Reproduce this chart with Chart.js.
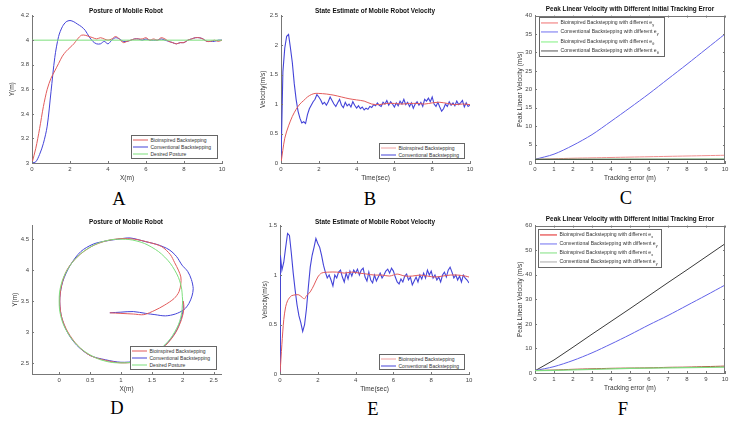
<!DOCTYPE html>
<html>
<head>
<meta charset="utf-8">
<script src="https://cdn.jsdelivr.net/npm/chart.js@4.4.0/dist/chart.umd.min.js"></script>
<style>
  body { margin: 0; background: #fff; width: 748px; height: 428px; position: relative; overflow: hidden;
         font-family: "Liberation Sans", Arial, sans-serif; }
  .panel { position: absolute; }
  .ttl { position: absolute; font-weight: bold; font-size: 6.4px; line-height: 1; color: #111;
         white-space: nowrap; transform: translate(-50%, -50%); }
  .letter { position: absolute; font-family: "Liberation Serif", "Times New Roman", serif; font-size: 18.5px;
            line-height: 1; color: #000; transform: translate(-50%, -50%); }
  .lg { position: absolute; box-sizing: border-box; border: 1px solid #666; background: #fff; color: #333; }
  .lg .row { position: absolute; left: 1px; display: flex; align-items: center; white-space: nowrap;
             transform: translateY(-50%); line-height: 1; }
  .lg .sw { display: inline-block; height: 1px; margin-right: 2.5px; }
  .lg sub { font-size: 0.75em; vertical-align: -0.35em; line-height: 0; }
</style>
</head>
<body>
<script>
// ---- data ----

// A: posture (Y vs X)
const xA = [0,0.2,0.4,0.6,0.8,1,1.2,1.4,1.6,1.8,2,2.2,2.4,2.6,2.8,3,3.2,3.4,3.6,3.8,4,4.2,4.4,4.6,4.8,5,
            5.2,5.4,5.6,5.8,6,6.2,6.4,6.6,6.8,7,7.2,7.4,7.6,7.8,8,8.2,8.4,8.6,8.8,9,9.2,9.4,9.6,9.8,10];
const yA_bio = [3.00,3.12,3.28,3.46,3.60,3.69,3.75,3.81,3.87,3.91,3.94,3.97,4.01,4.04,4.04,4.03,4.02,4.01,4.02,4.01,
                4.00,4.01,4.03,4.01,3.98,3.99,4.00,4.01,4.01,4.01,4.02,4.00,4.01,4.00,4.02,4.01,3.99,3.98,3.97,3.98,
                3.98,4.00,4.01,4.02,4.02,4.01,3.99,3.99,4.00,3.99,4.00];
const yA_conv = [3.00,3.01,3.07,3.16,3.30,3.58,3.86,4.03,4.11,4.15,4.16,4.15,4.13,4.11,4.08,4.03,3.99,3.97,3.97,3.99,
                 3.97,4.00,4.02,4.01,3.99,3.99,4.00,4.01,4.01,4.00,4.01,4.00,4.00,4.00,4.01,4.00,3.99,3.98,3.97,3.98,
                 3.98,4.00,4.01,4.02,4.02,4.01,3.99,3.99,3.99,4.00,4.00];
const xA_desired = [0, 10];
const yA_desired = [4, 4];

// B: velocity estimate
const tB_bio = [0,0.2,0.4,0.6,0.8,1,1.2,1.4,1.6,1.8,2,2.4,2.8,3.2,3.6,4,4.4,4.8,5.2,5.6,6,6.4,6.8,7.2,7.6,8,8.4,8.8,9.2,9.6,10];
const vB_bio = [0,0.42,0.63,0.79,0.91,1.00,1.06,1.12,1.16,1.18,1.18,1.17,1.15,1.12,1.09,1.07,1.05,1.00,0.99,1.01,
                1.01,1.00,1.01,1.01,1.00,1.02,1.03,1.01,0.99,1.00,0.99];
const tB_conv = [0,0.1,0.2,0.3,0.4,0.5,0.6,0.7,0.8,0.9,1,1.1,1.2,1.3,1.4,1.5,1.6,1.7,1.8,1.9,
                 2,2.1,2.2,2.3,2.4,2.5,2.6,2.7,2.8,2.9,3,3.1,3.2,3.3,3.4,3.5,3.6,3.7,3.8,3.9,
                 4,4.1,4.2,4.3,4.4,4.5,4.6,4.7,4.8,4.9,5,5.1,5.2,5.3,5.4,5.5,5.6,5.7,5.8,5.9,
                 6,6.1,6.2,6.3,6.4,6.5,6.6,6.7,6.8,6.9,7,7.1,7.2,7.3,7.4,7.5,7.6,7.7,7.8,7.9,
                 8,8.1,8.2,8.3,8.4,8.5,8.6,8.7,8.8,8.9,9,9.1,9.2,9.3,9.4,9.5,9.6,9.7,9.8,9.9,10];
const vB_conv = [0.00,1.55,1.95,2.15,2.18,1.95,1.70,1.35,1.08,0.88,0.76,0.68,0.70,0.67,0.82,0.92,0.98,1.04,1.08,1.16,
                 1.12,1.07,1.00,1.03,0.98,1.04,1.12,1.06,1.00,0.96,1.02,1.08,0.98,0.94,1.03,0.97,1.00,0.95,1.04,0.98,
                 0.93,0.97,0.92,0.95,0.90,0.93,0.91,0.96,0.94,0.99,0.97,1.02,0.98,0.96,1.03,1.00,1.06,0.98,1.04,1.00,
                 0.95,1.02,0.97,1.05,1.00,1.08,0.99,1.03,0.96,1.02,0.93,1.00,1.04,0.98,1.03,0.96,1.08,1.05,1.10,1.04,
                 1.12,1.00,0.96,1.03,0.95,0.88,0.92,1.00,0.96,1.04,0.98,1.02,0.97,1.05,0.99,1.02,1.06,0.95,1.02,0.96,0.98];

// C: peak linear velocity vs initial tracking error
const errC = [0,1,2,3,4,5,6,7,8,9,10];
const pkC_bioY  = [1.0,1.15,1.3,1.4,1.5,1.6,1.7,1.8,1.9,2.0,2.1];
const pkC_convY = [1.0,2.4,4.8,7.7,11.3,15.0,18.8,22.8,26.8,30.9,35.0];
const pkC_bioT  = [1.0,1.0,1.0,1.0,1.02,1.02,1.03,1.03,1.04,1.04,1.05];
const pkC_convT = [1.0,1.0,1.0,1.0,1.0,1.0,1.0,1.0,1.0,1.0,1.0];

// D: posture on the circle
const xD_bio = [0.82,1.00,1.20,1.37,1.55,1.70,1.86,1.94,1.97,1.97,1.93,1.87,1.80,1.66,1.45,1.22,1.00,0.75,0.52,0.30,
                0.13,0.04,0.01,0.04,0.14,0.30,0.50,0.75,1.00,1.26,1.50,1.72,1.88,1.98,2.02,2.01];
const yD_bio = [3.31,3.30,3.29,3.28,3.35,3.43,3.54,3.65,3.78,3.89,4.00,4.12,4.25,4.38,4.45,4.50,4.51,4.47,4.38,4.22,
                4.01,3.76,3.50,3.24,3.00,2.78,2.62,2.54,2.50,2.52,2.62,2.78,2.98,3.20,3.38,3.50];
const xD_conv = [0.82,1.00,1.20,1.40,1.55,1.72,1.88,2.02,2.10,2.15,2.17,2.14,2.08,1.99,1.90,1.78,1.60,1.40,1.15,0.95,
                 0.75,0.55,0.35,0.18,0.06,0.01,0.03,0.12,0.28,0.50,0.75,1.00,1.25,1.50,1.72,1.88,1.97,2.01,2.00];
const yD_conv = [3.31,3.32,3.33,3.30,3.28,3.26,3.29,3.36,3.46,3.58,3.70,3.85,3.98,4.08,4.22,4.33,4.41,4.46,4.52,4.50,
                 4.47,4.42,4.30,4.08,3.82,3.55,3.28,3.02,2.79,2.62,2.55,2.51,2.53,2.63,2.79,2.99,3.20,3.38,3.50];
const xD_desired = [2.00,1.97,1.87,1.71,1.50,1.26,1.00,0.74,0.50,0.29,0.13,0.03,0.00,0.03,0.13,0.29,0.50,0.74,1.00,1.26,
                    1.50,1.71,1.87,1.97,2.00];
const yD_desired = [3.50,3.76,4.00,4.21,4.37,4.47,4.50,4.47,4.37,4.21,4.00,3.76,3.50,3.24,3.00,2.79,2.63,2.53,2.50,2.53,
                    2.63,2.79,3.00,3.24,3.50];

// E: velocity estimate
const tE_bio = [0,0.1,0.2,0.3,0.4,0.5,0.6,0.8,1.0,1.2,1.3,1.4,1.6,1.8,2.0,2.2,2.6,3.0,3.4,3.8,4.2,4.6,5.0,5.4,5.8,6.2,
                6.6,7.0,7.4,7.8,8.2,8.6,9.0,9.4,9.8,10];
const vE_bio = [0,0.30,0.55,0.68,0.74,0.77,0.79,0.80,0.80,0.77,0.76,0.79,0.83,0.90,0.98,1.02,1.03,1.03,1.02,1.03,
                1.02,1.01,1.00,1.00,0.99,1.01,0.99,0.99,1.00,0.99,0.98,0.99,1.00,1.00,0.99,0.98];
const tE_conv = [0,0.02,0.1,0.2,0.3,0.4,0.5,0.6,0.7,0.8,0.9,1,1.1,1.2,1.3,1.4,1.5,1.6,1.7,1.8,1.9,
                 2,2.1,2.2,2.3,2.4,2.5,2.6,2.7,2.8,2.9,3,3.1,3.2,3.3,3.4,3.5,3.6,3.7,3.8,3.9,
                 4,4.1,4.2,4.3,4.4,4.5,4.6,4.7,4.8,4.9,5,5.1,5.2,5.3,5.4,5.5,5.6,5.7,5.8,5.9,
                 6,6.1,6.2,6.3,6.4,6.5,6.6,6.7,6.8,6.9,7,7.1,7.2,7.3,7.4,7.5,7.6,7.7,7.8,7.9,
                 8,8.1,8.2,8.3,8.4,8.5,8.6,8.7,8.8,8.9,9,9.1,9.2,9.3,9.4,9.5,9.6,9.7,9.8,9.9,10];
const vE_conv = [0.00,1.20,1.05,1.13,1.28,1.42,1.40,1.22,1.02,0.85,0.70,0.59,0.52,0.43,0.50,0.66,0.88,1.08,1.20,1.28,1.37,
                 1.32,1.28,1.20,1.10,1.03,0.97,1.00,0.95,0.89,1.00,0.97,1.03,1.05,0.98,0.93,1.02,0.96,1.04,0.99,1.05,
                 1.02,1.06,1.00,1.05,1.07,0.98,0.94,1.03,0.95,0.92,1.00,0.94,0.98,1.02,0.97,1.00,1.04,1.06,1.02,1.07,
                 1.04,0.98,0.93,0.91,0.96,0.93,0.99,1.01,0.95,0.98,0.90,0.94,0.98,0.93,1.00,0.96,1.02,0.97,1.05,1.00,
                 1.04,0.97,1.00,0.95,0.98,0.93,1.00,1.03,0.98,1.05,1.08,1.03,0.97,1.00,0.95,0.99,0.93,1.00,0.97,0.95,0.92];

// F: peak linear velocity vs initial tracking error
const errF = [0,1,2,3,4,5,6,7,8,9,10];
const pkF_bioX  = [1.0,1.2,1.5,1.7,1.9,2.0,2.1,2.3,2.4,2.6,2.8];
const pkF_convY = [1.0,2.6,5.1,8.2,11.8,15.6,19.6,23.4,27.5,31.6,35.8];
const pkF_bioY  = [1.0,1.1,1.3,1.5,1.7,1.9,2.0,2.1,2.2,2.3,2.4];
const pkF_convX = [0.9,5.3,10.5,15.8,21.0,26.2,31.5,36.8,42.0,47.3,52.6];

// tick labels
const ticksX10s2 = [0,2,4,6,8,10];
const ticksX10s1 = [0,1,2,3,4,5,6,7,8,9,10];
const ticksYA = [3,3.2,3.4,3.6,3.8,4,4.2];
const ticksYB = [0,0.5,1,1.5,2,2.5];
const ticksYC = [0,5,10,15,20,25,30,35,40];
const ticksXD = [0,0.5,1,1.5,2,2.5];
const ticksYD = [2.5,3,3.5,4,4.5];
const ticksYE = [0,0.5,1,1.5];
const ticksYF = [0,10,20,30,40,50,60];

// ---- drawing ----
Chart.defaults.font.family = '"Liberation Sans", Arial, sans-serif';
Chart.defaults.color = '#444';

const RED = '#e25b5b', BLUE = '#4444d8', GREEN = '#7ddf7d';

// Matlab-like inward ticks and optional full box
Chart.register({
  id: 'matFrame',
  afterDraw(chart, args, opts) {
    const { ctx, chartArea: a, scales: { x, y } } = chart;
    ctx.save();
    ctx.strokeStyle = '#777';
    ctx.lineWidth = 1;
    ctx.beginPath();
    x.ticks.forEach(t => {
      const px = Math.round(x.getPixelForValue(t.value)) + 0.5;
      ctx.moveTo(px, a.bottom); ctx.lineTo(px, a.bottom - 2);
      if (opts.box) { ctx.moveTo(px, a.top); ctx.lineTo(px, a.top + 2); }
    });
    y.ticks.forEach(t => {
      const py = Math.round(y.getPixelForValue(t.value)) + 0.5;
      ctx.moveTo(a.left, py); ctx.lineTo(a.left + 2, py);
      if (opts.box) { ctx.moveTo(a.right, py); ctx.lineTo(a.right - 2, py); }
    });
    if (opts.box) {
      ctx.moveTo(a.left, Math.round(a.top) + 0.5); ctx.lineTo(a.right, Math.round(a.top) + 0.5);
      ctx.moveTo(Math.round(a.right) - 0.5, a.top); ctx.lineTo(Math.round(a.right) - 0.5, a.bottom);
    }
    ctx.stroke();
    ctx.restore();
  }
});

function pts(xs, ys) { return xs.map((v, i) => ({ x: v, y: ys[i] })); }

function line(xs, ys, color, extra) {
  return Object.assign({ data: pts(xs, ys), borderColor: color, borderWidth: 1, showLine: true,
                         pointRadius: 0, tension: 0, fill: false }, extra || {});
}

function axis(min, max, ticks, title, titlePad, fit) {
  return {
    min, max,
    afterBuildTicks: s => { s.ticks = ticks.map(v => ({ value: v })); },
    afterFit: fit,
    grid: { display: false, drawTicks: false },
    border: { display: true, color: '#777', width: 1 },
    ticks: { padding: 3, autoSkip: false, maxRotation: 0, font: { size: 6 }, color: '#444',
             callback: v => String(v) },
    title: { display: true, text: title, color: '#333', font: { size: 6.5 }, padding: titlePad }
  };
}

function addText(cls, html, x, y) {
  const d = document.createElement('div');
  d.className = cls;
  d.innerHTML = html;
  d.style.left = x + 'px';
  d.style.top = y + 'px';
  document.body.appendChild(d);
}

function addLegend(box, rows, fontSize, swW) {
  const el = document.createElement('div');
  el.className = 'lg';
  el.style.left = box[0] + 'px';
  el.style.top = box[1] + 'px';
  el.style.width = (box[2] - box[0]) + 'px';
  el.style.height = (box[3] - box[1]) + 'px';
  el.style.fontSize = fontSize + 'px';
  const h = box[3] - box[1] - 2;
  rows.forEach((r, i) => {
    const row = document.createElement('div');
    row.className = 'row';
    row.style.top = ((i + 0.5) * h / rows.length) + 'px';
    row.innerHTML = `<span class="sw" style="width:${swW}px;background:${r.color}"></span><span>${r.label}</span>`;
    el.appendChild(row);
  });
  document.body.appendChild(el);
}

function makePanel(p) {
  const padT = 6, padR = 8, xH = 22;
  const yW = p.area.l - p.yTitleX + 6;
  const w = yW + (p.area.r - p.area.l) + padR;
  const h = padT + (p.area.b - p.area.t) + xH;
  const wrap = document.createElement('div');
  wrap.className = 'panel';
  wrap.style.left = (p.area.l - yW) + 'px';
  wrap.style.top = (p.area.t - padT) + 'px';
  const cv = document.createElement('canvas');
  cv.width = w; cv.height = h;
  cv.style.width = w + 'px'; cv.style.height = h + 'px';
  wrap.appendChild(cv);
  document.body.appendChild(wrap);

  new Chart(cv, {
    type: 'scatter',
    data: { datasets: p.datasets },
    options: {
      responsive: false,
      animation: false,
      layout: { padding: { top: padT, right: padR, left: 0, bottom: 0 } },
      plugins: { legend: { display: false }, tooltip: { enabled: false }, matFrame: { box: !!p.box } },
      scales: {
        x: axis(p.x[0], p.x[1], p.x[2], p.xTitle, { top: 0, bottom: 3.1 }, s => { s.height = xH; }),
        y: axis(p.y[0], p.y[1], p.y[2], p.yTitle, { top: 2.1, bottom: 0 }, s => { s.width = yW; })
      }
    }
  });

  addText('ttl', p.title, p.titlePos[0], p.titlePos[1]);
  addText('letter', p.letter, p.letterPos[0], p.letterPos[1]);
}

const peakTitle = 'Peak Linear Velocity with Different Initial Tracking Error';

// A
makePanel({
  area: { l: 32, r: 222, t: 15, b: 163 }, yTitleX: 12,
  x: [0, 10, ticksX10s2], y: [3, 4.2, ticksYA], xTitle: 'X(m)', yTitle: 'Y(m)',
  title: 'Posture of Mobile Robot', titlePos: [126, 11], letter: 'A', letterPos: [119, 199],
  datasets: [
    line(xA_desired, yA_desired, GREEN),
    line(xA, yA_bio, RED, { tension: 0.3 }),
    line(xA, yA_conv, BLUE, { tension: 0.3 })
  ]
});
addLegend([131, 135, 218, 159], [
  { label: 'Bioinspired Backstepping', color: RED },
  { label: 'Conventional Backstepping', color: BLUE },
  { label: 'Desired Posture', color: GREEN }
], 5, 15);

// B
makePanel({
  area: { l: 281, r: 470, t: 15, b: 163 }, yTitleX: 263,
  x: [0, 10, ticksX10s2], y: [0, 2.5, ticksYB], xTitle: 'Time(sec)', yTitle: 'Velocity(m/s)',
  title: 'State Estimate of Mobile Robot Velocity', titlePos: [375, 11], letter: 'B', letterPos: [370, 199],
  datasets: [
    line(tB_bio, vB_bio, RED, { tension: 0.3 }),
    line(tB_conv, vB_conv, BLUE, { borderWidth: 1.1 })
  ]
});
addLegend([379, 143, 465, 159], [
  { label: 'Bioinspired Backstepping', color: '#f0a0a0' },
  { label: 'Conventional Backstepping', color: BLUE }
], 5, 15);

// C
makePanel({
  area: { l: 535, r: 725, t: 15, b: 163 }, yTitleX: 520, box: true,
  x: [0, 10, ticksX10s1], y: [0, 40, ticksYC], xTitle: 'Tracking error (m)', yTitle: 'Peak Linear Velocity (m/s)',
  title: peakTitle, titlePos: [630, 9], letter: 'C', letterPos: [626, 198],
  datasets: [
    line(errC, pkC_convT, '#444'),
    line(errC, pkC_bioT, '#55c855'),
    line(errC, pkC_bioY, '#f09090', { tension: 0.3 }),
    line(errC, pkC_convY, '#6262e8', { tension: 0.3 })
  ]
});
addLegend([539, 17, 665, 57], [
  { label: 'Bioinspired Backstepping with different e<sub>y</sub>', color: '#f07070' },
  { label: 'Conventional Backstepping with different e<sub>y</sub>', color: '#7070f0' },
  { label: 'Bioinspired Backstepping with different e<sub>θ</sub>', color: '#80f080' },
  { label: 'Conventional Backstepping with different e<sub>θ</sub>', color: '#555' }
], 5.1, 17);

// D
makePanel({
  area: { l: 32, r: 221, t: 225, b: 374 }, yTitleX: 15,
  x: [-0.44, 2.62, ticksXD], y: [2.32, 4.72, ticksYD], xTitle: 'X(m)', yTitle: 'Y(m)',
  title: 'Posture of Mobile Robot', titlePos: [126, 222], letter: 'D', letterPos: [117, 408],
  datasets: [
    line(xD_desired, yD_desired, GREEN, { tension: 0.4 }),
    line(xD_bio, yD_bio, RED, { tension: 0.3 }),
    line(xD_conv, yD_conv, BLUE, { tension: 0.3 })
  ]
});
addLegend([130, 346, 217, 370], [
  { label: 'Bioinspired Backstepping', color: RED },
  { label: 'Conventional Backstepping', color: BLUE },
  { label: 'Desired Posture', color: GREEN }
], 5, 15);

// E
makePanel({
  area: { l: 280, r: 469, t: 225, b: 374 }, yTitleX: 265,
  x: [0, 10, ticksX10s2], y: [0, 1.5, ticksYE], xTitle: 'Time(sec)', yTitle: 'Velocity(m/s)',
  title: 'State Estimate of Mobile Robot Velocity', titlePos: [375, 222], letter: 'E', letterPos: [373, 409],
  datasets: [
    line(tE_bio, vE_bio, RED, { tension: 0.3 }),
    line(tE_conv, vE_conv, BLUE, { borderWidth: 1.1 })
  ]
});
addLegend([379, 354, 465, 370], [
  { label: 'Bioinspired Backstepping', color: '#f0a0a0' },
  { label: 'Conventional Backstepping', color: BLUE }
], 5, 15);

// F
makePanel({
  area: { l: 535, r: 725, t: 225, b: 373 }, yTitleX: 520, box: true,
  x: [0, 10, ticksX10s1], y: [0, 60, ticksYF], xTitle: 'Tracking error (m)', yTitle: 'Peak Linear Velocity (m/s)',
  title: peakTitle, titlePos: [630, 219], letter: 'F', letterPos: [623, 409],
  datasets: [
    line(errF, pkF_bioY, '#7fdc7f', { borderWidth: 1.3 }),
    line(errF, pkF_bioX, '#b04030', { tension: 0.3 }),
    line(errF, pkF_convY, '#6262e8', { tension: 0.3 }),
    line(errF, pkF_convX, '#3a3a3a')
  ]
});
addLegend([538, 229, 662, 268], [
  { label: 'Bioinspired Backstepping with different e<sub>x</sub>', color: '#e02020' },
  { label: 'Conventional Backstepping with different e<sub>y</sub>', color: '#7070f0' },
  { label: 'Bioinspired Backstepping with different e<sub>x</sub>', color: '#80e080' },
  { label: 'Conventional Backstepping with different e<sub>y</sub>', color: '#aaa' }
], 5.1, 17);
</script>
</body>
</html>
